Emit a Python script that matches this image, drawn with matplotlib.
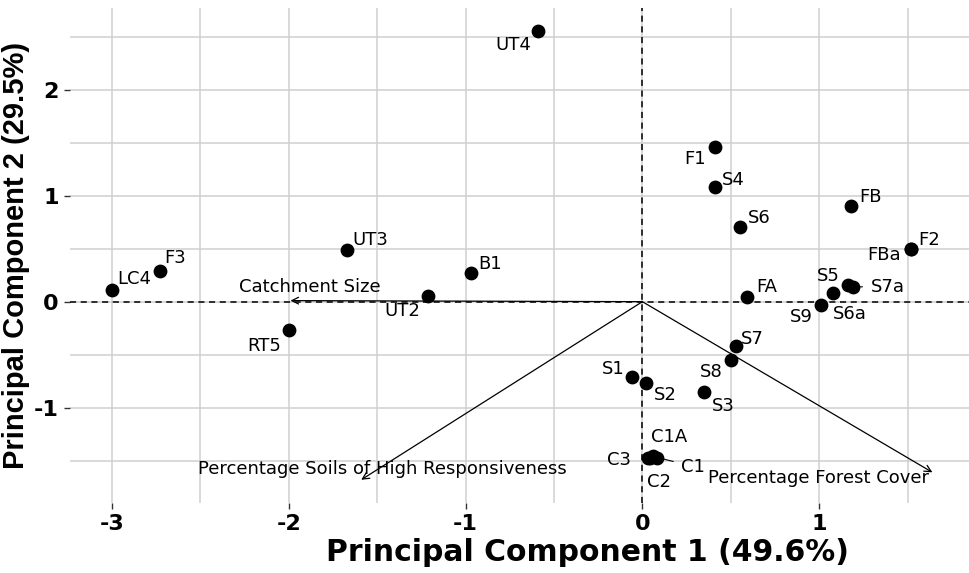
import matplotlib
matplotlib.use("Agg")
import matplotlib.pyplot as plt

plt.rcParams["font.family"] = ["DejaVu Sans"]
plt.rcParams["axes.unicode_minus"] = False

# sample scores (PC1, PC2)
sites = ["UT4", "F1", "S4", "S6", "FB", "F2", "FBa", "S5", "S7a", "S6a", "S9",
         "FA", "S7", "S8", "S1", "S2", "S3", "C3", "C2", "C1A", "C1",
         "LC4", "F3", "UT3", "B1", "UT2", "RT5"]
pc1 = [-0.59, 0.41, 0.41, 0.55, 1.18, 1.52, 1.52, 1.16, 1.19, 1.08, 1.01,
       0.59, 0.53, 0.50, -0.06, 0.02, 0.35, 0.03, 0.045, 0.06, 0.085,
       -3.00, -2.73, -1.67, -0.97, -1.21, -2.00]
pc2 = [2.55, 1.46, 1.08, 0.70, 0.90, 0.50, 0.50, 0.16, 0.14, 0.085, -0.03,
       0.04, -0.42, -0.55, -0.71, -0.77, -0.85, -1.47, -1.47, -1.46, -1.47,
       0.11, 0.29, 0.49, 0.27, 0.05, -0.27]

# variable loadings
variables = ["Catchment Size", "Percentage Soils of High Responsiveness",
             "Percentage Forest Cover"]
load1 = [-1.99, -1.59, 1.64]
load2 = [0.01, -1.68, -1.61]

# label offsets in pixels (dx, dy); S7a and C1 get a leader segment
offsets = [(-25, -14), (-20, -12), (18, 7), (20, 9), (19, 9), (18, 9), (-27, -6),
           (-19, 9), (35, 0), (16, -21), (-20, -12),
           (20, 10), (16, 7), (-20, -12), (-19, 8), (19, -12), (19, -14),
           (-29, -2), (9, -24), (16, 19), (36, -9),
           (22, 11), (16, 13), (23, 10), (19, 9), (-26, -15), (-25, -16)]
leaders = ["S7a", "C1"]

fig = plt.figure(figsize=(9.69, 5.73), dpi=100)
ax = fig.add_axes([0.0722, 0.122, 0.9278, 0.864])

ax.set_xlim(-3.237, 1.847)
ax.set_ylim(-1.90, 2.77)
ax.set_xticks([-3, -2, -1, 0, 1])
ax.set_yticks([-1, 0, 1, 2])
ax.set_xticks([-2.5, -1.5, -0.5, 0.5, 1.5], minor=True)
ax.set_yticks([-1.5, -0.5, 0.5, 1.5, 2.5], minor=True)
ax.grid(True, which="both", color="#cfcfcf", linewidth=1.1)
ax.set_axisbelow(True)
for s in ax.spines.values():
    s.set_visible(False)
ax.tick_params(which="minor", length=0)
ax.tick_params(which="major", length=4, width=1, color="#333333", pad=4)
for lab in ax.get_xticklabels() + ax.get_yticklabels():
    lab.set_fontweight("bold")
    lab.set_fontsize(16)

ax.axhline(0, color="black", linestyle=(0, (4, 3)), linewidth=1.1)
ax.axvline(0, color="black", linestyle=(0, (4, 3)), linewidth=1.1)

for name, x, y in zip(variables, load1, load2):
    ax.annotate("", xy=(x, y), xytext=(0, 0),
                arrowprops=dict(arrowstyle="->", color="black", lw=0.9,
                                shrinkA=0, shrinkB=0, mutation_scale=12))
ax.text(-1.88, 0.14, variables[0], fontsize=13, ha="center", va="center")
ax.text(-1.47, -1.575, variables[1], fontsize=13, ha="center", va="center")
ax.text(0.994, -1.66, variables[2], fontsize=13, ha="center", va="center")

ax.scatter(pc1, pc2, s=80, color="black", zorder=4)

for name, x, y, (dx, dy) in zip(sites, pc1, pc2, offsets):
    props = None
    if name in leaders:
        props = dict(arrowstyle="-", color="black", lw=0.8, shrinkA=4, shrinkB=13)
    ax.annotate(name, xy=(x, y), xytext=(dx, dy), textcoords="offset pixels",
                fontsize=13, ha="center", va="center", arrowprops=props, zorder=5)

ax.set_xlabel("Principal Component 1 (49.6%)", fontsize=21.5, fontweight="bold")
ax.xaxis.set_label_coords((588 - 70) / 899, -0.07, transform=ax.transAxes)
ax.xaxis.label.set_va("top")
ax.set_ylabel("Principal Component 2 (29.5%)", fontsize=21, fontweight="bold",
              family="Liberation Sans", labelpad=3)

fig.savefig("out.png", dpi=100)
